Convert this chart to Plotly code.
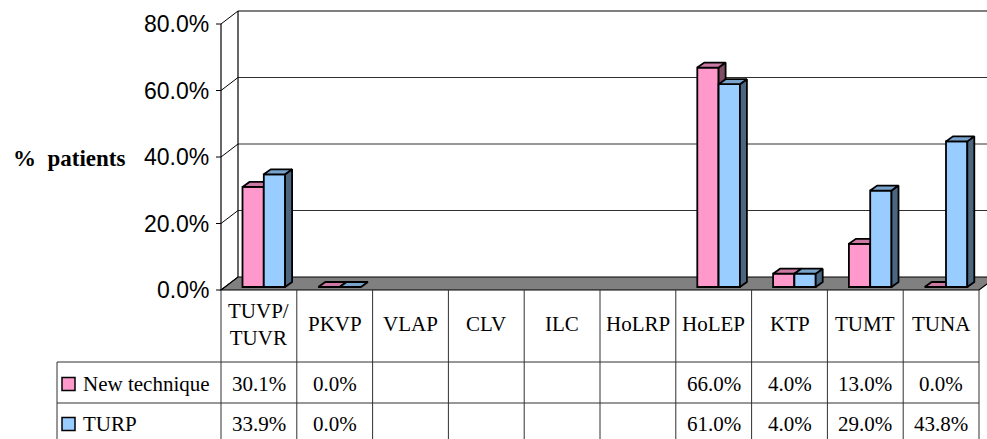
import plotly.graph_objects as go

# ---- data -------------------------------------------------------------
categories = ["TUVP/TUVR", "PKVP", "VLAP", "CLV", "ILC", "HoLRP", "HoLEP", "KTP", "TUMT", "TUNA"]
new_technique = [30.1, 0.0, None, None, None, None, 66.0, 4.0, 13.0, 0.0]
turp = [33.9, 0.0, None, None, None, None, 61.0, 4.0, 29.0, 43.8]
series_names = ["New technique", "TURP"]
y_ticks = [0, 20, 40, 60, 80]

# ---- page / frame geometry (pixels) -----------------------------------
W, H = 987, 439
X0_PX, COL_PX = 221, 75.8      # left edge of first category column, column width
Y0_PX, PCT_PX = 290, 3.325     # pixel row of 0 %, pixels per percent

XR = [-X0_PX / COL_PX, (W - X0_PX) / COL_PX]
YR = [-(H - Y0_PX) / PCT_PX, Y0_PX / PCT_PX]

# depth of the 3-D box (data units)
WALL_DX, WALL_DY = 17 / COL_PX, 13 / PCT_PX
# bars: offset into depth, thickness of top/side faces
BASE = 3 / PCT_PX
BAR_DX, BAR_DY = 7 / COL_PX, 5 / PCT_PX
BAR_LEFT = 21.5 / COL_PX
BAR_W = 21.3 / COL_PX

PINK, PINK_TOP, PINK_SIDE = "#FF99CC", "#CC7AA3", "#804D66"
BLUE, BLUE_TOP, BLUE_SIDE = "#99CCFF", "#7AA3CC", "#4D6680"
SERIF = "Liberation Serif, Times New Roman, serif"
SANS = "Liberation Sans, Arial, sans-serif"
DARK = "#303030"


def fx(px):
    return px / W


def fy(py):
    return 1 - py / H


def bar_traces(vals, slot, front, top, side, xa, ya):
    xs, ys = [], []
    tx, ty, sx, sy = [], [], [], []
    for i, v in enumerate(vals):
        if v is None:
            continue
        x0 = i + BAR_LEFT + slot * BAR_W
        x1 = x0 + BAR_W
        xs.append(x0 + BAR_W / 2)
        ys.append(v)
        t = BASE + v
        tx += [x0, x0 + BAR_DX, x1 + BAR_DX, x1, x0, None]
        ty += [t, t + BAR_DY, t + BAR_DY, t, t, None]
        if v > 0:
            sx += [x1, x1 + BAR_DX, x1 + BAR_DX, x1, x1, None]
            sy += [t, t + BAR_DY, BASE + BAR_DY, BASE, t, None]
    line = dict(color="black", width=1.8)
    return [
        go.Bar(x=xs, y=ys, base=BASE, width=BAR_W, marker=dict(color=front, line=line),
               xaxis=xa, yaxis=ya, hoverinfo="skip", showlegend=False),
        go.Scatter(x=sx, y=sy, mode="lines", fill="toself", fillcolor=side, line=line,
                   xaxis=xa, yaxis=ya, hoverinfo="skip", showlegend=False),
        go.Scatter(x=tx, y=ty, mode="lines", fill="toself", fillcolor=top, line=line,
                   xaxis=xa, yaxis=ya, hoverinfo="skip", showlegend=False),
    ]


fig = go.Figure()
for tr in bar_traces(new_technique, 0, PINK, PINK_TOP, PINK_SIDE, "x", "y"):
    fig.add_trace(tr)
for tr in bar_traces(turp, 1, BLUE, BLUE_TOP, BLUE_SIDE, "x2", "y2"):
    fig.add_trace(tr)

shapes = []
n = len(categories)
top_v = y_ticks[-1]
right_u = XR[1] + 1

# floor
shapes.append(dict(type="path", xref="x", yref="y", layer="below",
                   path=f"M0,0 L{WALL_DX},{WALL_DY} L{n + WALL_DX},{WALL_DY} L{n},0 Z",
                   fillcolor="#808080", line=dict(color="black", width=1.2)))
# back wall gridlines
for t in y_ticks[1:-1]:
    shapes.append(dict(type="line", xref="x", yref="y", layer="below",
                       x0=WALL_DX, x1=right_u, y0=t + WALL_DY, y1=t + WALL_DY,
                       line=dict(color=DARK, width=1.2)))
shapes.append(dict(type="line", xref="x", yref="y", layer="below",
                   x0=WALL_DX, x1=right_u, y0=top_v + WALL_DY, y1=top_v + WALL_DY,
                   line=dict(color="black", width=1.2)))
# back wall left edge and front value axis
shapes.append(dict(type="line", xref="x", yref="y", layer="below",
                   x0=WALL_DX, x1=WALL_DX, y0=WALL_DY, y1=top_v + WALL_DY,
                   line=dict(color="black", width=1.2)))
shapes.append(dict(type="line", xref="x", yref="y", layer="below",
                   x0=0, x1=0, y0=0, y1=top_v, line=dict(color="black", width=1.2)))
# side wall diagonals and tick marks
for t in y_ticks:
    shapes.append(dict(type="line", xref="x", yref="y", layer="below",
                       x0=0, x1=WALL_DX, y0=t, y1=t + WALL_DY,
                       line=dict(color="black", width=1)))
    shapes.append(dict(type="line", xref="x", yref="y", layer="below",
                       x0=-5 / COL_PX, x1=0, y0=t, y1=t,
                       line=dict(color="black", width=1)))

# data table grid
grid = dict(color=DARK, width=1)
for k in range(n + 1):
    xpx = X0_PX + COL_PX * k
    shapes.append(dict(type="line", xref="paper", yref="paper",
                       x0=fx(xpx), x1=fx(xpx), y0=fy(Y0_PX), y1=0, line=grid))
ROW_Y = [362, 403]
LEG_X = 57
for ry in ROW_Y:
    shapes.append(dict(type="line", xref="paper", yref="paper",
                       x0=fx(LEG_X), x1=fx(X0_PX + COL_PX * n), y0=fy(ry), y1=fy(ry), line=grid))
shapes.append(dict(type="line", xref="paper", yref="paper",
                   x0=fx(LEG_X), x1=fx(LEG_X), y0=fy(ROW_Y[0]), y1=0, line=grid))

annotations = []
# value axis labels
for t in y_ticks:
    annotations.append(dict(xref="x", yref="y", x=0, y=t, xanchor="right", yanchor="middle",
                            xshift=-10, text=f"{t:.1f}%", showarrow=False,
                            font=dict(family=SANS, size=23, color="black")))
annotations.append(dict(xref="paper", yref="paper", x=fx(11), y=fy(158), xanchor="left",
                        yanchor="middle", text="<b>%  patients</b>", showarrow=False,
                        font=dict(family=SERIF, size=23, color="black")))

# column headers
for i, c in enumerate(categories):
    annotations.append(dict(xref="paper", yref="paper", x=fx(X0_PX + COL_PX * (i + 0.5)),
                            y=fy(324), xanchor="center", yanchor="middle",
                            text=c.replace("/", "/<br>"), showarrow=False,
                            font=dict(family=SERIF, size=21, color="black")))

# rows: legend key, series name, values
row_centres = [384, 424]
for name, vals, col, yc in zip(series_names, [new_technique, turp], [PINK, BLUE], row_centres):
    shapes.append(dict(type="rect", xref="paper", yref="paper",
                       x0=fx(62), x1=fx(75), y0=fy(yc - 6.5), y1=fy(yc + 6.5),
                       fillcolor=col, line=dict(color="black", width=1.5)))
    annotations.append(dict(xref="paper", yref="paper", x=fx(81), y=fy(yc), xanchor="left",
                            yanchor="middle", text=name, showarrow=False,
                            font=dict(family=SERIF, size=21, color="black")))
    for i, v in enumerate(vals):
        if v is None:
            continue
        annotations.append(dict(xref="paper", yref="paper", x=fx(X0_PX + COL_PX * (i + 0.5)),
                                y=fy(yc), xanchor="center", yanchor="middle",
                                text=f"{v:.1f}%", showarrow=False,
                                font=dict(family=SERIF, size=21, color="black")))

axis_common = dict(visible=False, fixedrange=True, showgrid=False, zeroline=False)
fig.update_layout(
    width=W, height=H,
    margin=dict(l=0, r=0, t=0, b=0),
    paper_bgcolor="white", plot_bgcolor="white",
    showlegend=False,
    xaxis=dict(range=XR, **axis_common),
    yaxis=dict(range=YR, **axis_common),
    xaxis2=dict(range=XR, overlaying="x", **axis_common),
    yaxis2=dict(range=YR, overlaying="y", **axis_common),
    shapes=shapes,
    annotations=annotations,
)

fig.write_html("out.html", config={"displayModeBar": False})
